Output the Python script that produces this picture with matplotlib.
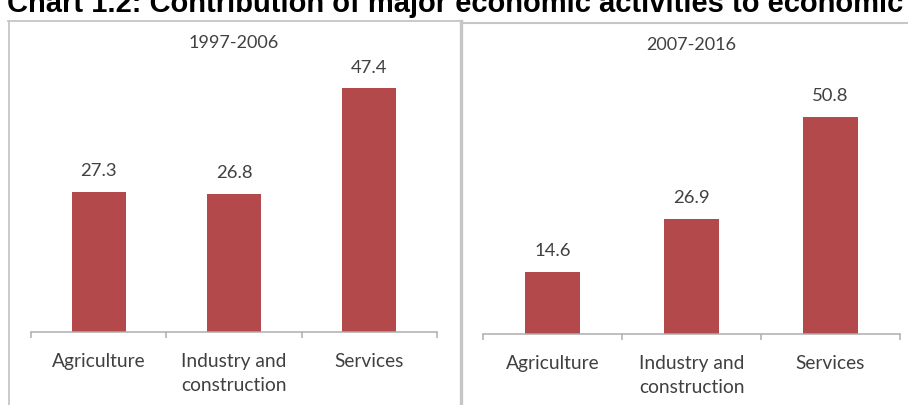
import matplotlib

matplotlib.use("Agg")
import matplotlib.pyplot as plt
from matplotlib.lines import Line2D

W, H = 908, 405  # canvas size in pixels (dpi 100)

TITLE = "Chart 1.2: Contribution of major economic activities to economic"
CATEGORIES = ["Agriculture", "Industry and\nconstruction", "Services"]
PERIOD_1 = "1997-2006"
PERIOD_2 = "2007-2016"
SHARE_1 = [27.3, 26.8, 47.4]
SHARE_2 = [14.6, 26.9, 50.8]

BAR_COLOR = "#B3494A"
TEXT_COLOR = "#404040"
AXIS_COLOR = "#ADADAD"
FRAME_COLOR = "#C6C6C6"
FONT = ["Lato", "DejaVu Sans"]


def fx(px):
    return px / W


def fy(px):
    return 1 - px / H


def add_axes_px(fig, left, right, top, bottom):
    return fig.add_axes([fx(left), fy(bottom), (right - left) / W, (bottom - top) / H])


def draw_panel(ax, values, ymax):
    xs = range(len(values))
    bars = ax.bar(xs, values, width=0.4, color=BAR_COLOR, zorder=2)
    for rect, v in zip(bars, values):
        ax.annotate(f"{v:.1f}", (rect.get_x() + rect.get_width() / 2, v),
                    xytext=(0, 15), textcoords="offset points",
                    ha="center", va="center", fontsize=13.3,
                    color=TEXT_COLOR, family=FONT)
    ax.set_xlim(-0.5, len(values) - 0.5)
    ax.set_ylim(0, ymax)
    for side in ("top", "left", "right"):
        ax.spines[side].set_visible(False)
    ax.spines["bottom"].set_color(AXIS_COLOR)
    ax.spines["bottom"].set_linewidth(1.1)
    ax.set_yticks([])
    ax.set_xticks(list(xs))
    ax.set_xticklabels(CATEGORIES, fontsize=13.8, color=TEXT_COLOR,
                       family=FONT, linespacing=1.5, va="top")
    ax.tick_params(axis="x", which="major", length=0, pad=15)
    ax.set_xticks([i - 0.5 for i in range(len(values) + 1)], minor=True)
    ax.tick_params(axis="x", which="minor", length=4, width=1.1,
                   color=AXIS_COLOR, direction="out")
    ax.patch.set_alpha(0)


fig = plt.figure(figsize=(W / 100, H / 100), dpi=100)
fig.patch.set_facecolor("white")

# chart heading, partly cut off at the top edge
fig.text(fx(7), fy(12), TITLE, fontsize=21, fontweight="bold",
         family=["Liberation Sans", "DejaVu Sans"], color="black",
         ha="left", va="baseline")

# panel frames
frame = dict(color=FRAME_COLOR, transform=fig.transFigure)
fig.add_artist(Line2D([fx(8), fx(461)], [fy(21), fy(21)], lw=1.3, **frame))
fig.add_artist(Line2D([fx(8.5), fx(8.5)], [fy(21), fy(H + 5)], lw=1.3, **frame))
fig.add_artist(Line2D([fx(461), fx(W + 5)], [fy(23), fy(23)], lw=1.5, **frame))
fig.add_artist(Line2D([fx(460.5), fx(460.5)], [fy(21), fy(H + 5)], lw=2.4, **frame))

ax1 = add_axes_px(fig, 31, 437, 60, 332)
draw_panel(ax1, SHARE_1, 272 / 5.14)
fig.text(fx(234), fy(43), PERIOD_1, fontsize=13, color=TEXT_COLOR,
         family=FONT, ha="center", va="center")

ax2 = add_axes_px(fig, 483, 900, 60, 334)
draw_panel(ax2, SHARE_2, 274 / 4.275)
fig.text(fx(691), fy(45), PERIOD_2, fontsize=13, color=TEXT_COLOR,
         family=FONT, ha="center", va="center")

fig.savefig("out.png", dpi=100)
